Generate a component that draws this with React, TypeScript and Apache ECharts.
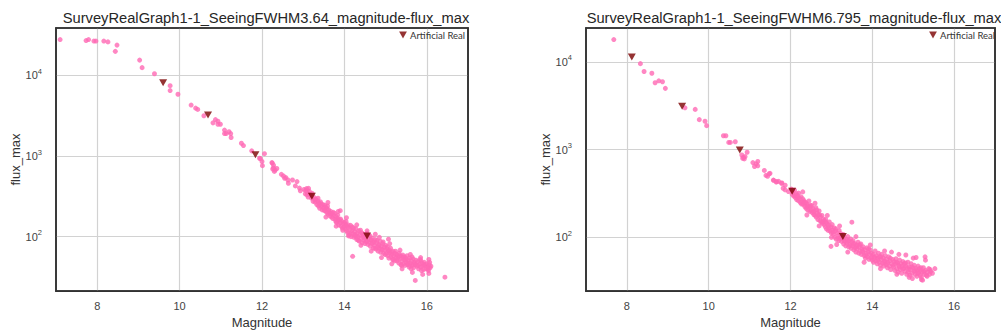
import React, { useEffect, useRef } from "react";
import * as echarts from "echarts";

const chartTitles = [
  "SurveyRealGraph1-1_SeeingFWHM3.64_magnitude-flux_max",
  "SurveyRealGraph1-1_SeeingFWHM6.795_magnitude-flux_max",
];
const legendLabel = "Artificial Real";
const xTickValues = [8, 10, 12, 14, 16];
const yTickExponents = [2, 3, 4];
const xRange = [7, 17];
const yRangeLeft = [21.1, 38800];
const yRangeRight = [24.4, 24400];

const artificialLeft = [
  [9.6, 8130], [10.69, 3230], [11.84, 1035], [13.21, 318], [14.55, 102],
];
const artificialRight = [
  [8.12, 11400], [9.35, 3130], [10.76, 993], [12.04, 335], [13.28, 102],
];

const realLeft = [
  [7.1, 27900], [7.73, 27100], [7.79, 27900], [7.92, 26700], [7.97, 26700], [8.16, 26700], [8.26, 26100],
  [8.48, 23800], [8.44, 19900], [9.03, 15500], [9.09, 12500], [9.39, 10500], [9.77, 7470], [9.77, 6490],
  [9.96, 5850], [10.28, 4290], [10.39, 3930], [10.44, 3790], [10.59, 3160], [10.81, 2580], [10.87, 2830],
  [10.93, 2700], [10.99, 2480], [10.93, 2480], [11.09, 2100], [11.13, 1900], [11.2, 2000], [11.24, 1900],
  [11.09, 1900], [11.25, 1700], [11.5, 1440], [11.55, 1350], [11.75, 1160], [12.06, 1070], [11.94, 940],
  [12.0, 855], [12.01, 760], [11.96, 930], [12.25, 817], [12.28, 710], [12.3, 645], [12.24, 830],
  [12.28, 770], [12.26, 690], [12.32, 670], [12.36, 700], [12.47, 593], [12.52, 565], [12.58, 540],
  [12.63, 505], [12.55, 530], [12.64, 460], [12.74, 505], [12.85, 482], [12.81, 426], [12.91, 400],
  [12.93, 370], [13.09, 330],
  [13.02, 385], [13.05, 340], [13.08, 395], [13.1, 350], [13.12, 310], [13.15, 365], [13.17, 330],
  [13.2, 300], [13.22, 345], [13.24, 275],
  [13.27, 305], [13.29, 268], [13.31, 290], [13.33, 250], [13.35, 278], [13.37, 240], [13.38, 262],
  [13.4, 225], [13.42, 270], [13.44, 238], [13.46, 215], [13.48, 250], [13.5, 228],
  [13.52, 245], [13.53, 210], [13.55, 232], [13.57, 200], [13.58, 222], [13.6, 190], [13.62, 215],
  [13.63, 198], [13.65, 180], [13.67, 205], [13.69, 175], [13.7, 192], [13.72, 168], [13.74, 185],
  [13.76, 195], [13.78, 165], [13.8, 178], [13.81, 150], [13.83, 170], [13.85, 158], [13.86, 140],
  [13.88, 162], [13.9, 210], [13.9, 148], [13.92, 135], [13.94, 155], [13.95, 128], [13.97, 145],
  [13.99, 132], [14.0, 150],
  [14.02, 125], [14.03, 142], [14.05, 118], [14.06, 135], [14.08, 112], [14.1, 130], [14.11, 105],
  [14.13, 122], [14.15, 138], [14.16, 100], [14.18, 118], [14.2, 57], [14.2, 110], [14.22, 128],
  [14.23, 98], [14.25, 115],
  [14.27, 105], [14.28, 125], [14.3, 92], [14.31, 110], [14.33, 100], [14.35, 118], [14.36, 88],
  [14.38, 105], [14.4, 95], [14.42, 112], [14.43, 84], [14.45, 100], [14.47, 90], [14.48, 106], [14.5, 82],
  [14.52, 98], [14.53, 88], [14.55, 110], [14.57, 80], [14.58, 95], [14.6, 85], [14.62, 102], [14.63, 76],
  [14.65, 90], [14.67, 82], [14.68, 96], [14.7, 72], [14.72, 86], [14.73, 78], [14.75, 92], [14.75, 107],
  [14.77, 70], [14.78, 84], [14.8, 74], [14.82, 66], [14.83, 80], [14.85, 72], [14.87, 88], [14.88, 64],
  [14.9, 76], [14.92, 69], [14.93, 82], [14.95, 62], [14.97, 74], [14.98, 68], [15.0, 78],
  [15.02, 62], [15.03, 71], [15.05, 58], [15.07, 93], [15.07, 66], [15.08, 54], [15.1, 63], [15.12, 72],
  [15.13, 56], [15.15, 60], [15.17, 52], [15.18, 66], [15.2, 58], [15.22, 50], [15.23, 62], [15.25, 55],
  [15.27, 60], [15.28, 50], [15.3, 56], [15.32, 47], [15.33, 62], [15.35, 53], [15.37, 45], [15.38, 57],
  [15.4, 50], [15.42, 59], [15.43, 46], [15.45, 52], [15.47, 44], [15.48, 55], [15.5, 48],
  [15.52, 58], [15.53, 45], [15.55, 51], [15.57, 42], [15.58, 54], [15.6, 47], [15.62, 40], [15.63, 50],
  [15.65, 44], [15.67, 53], [15.68, 41], [15.7, 48], [15.72, 28.6], [15.72, 45], [15.74, 51],
  [15.76, 43], [15.78, 49], [15.8, 40], [15.82, 46], [15.84, 52], [15.85, 42], [15.87, 38], [15.89, 47],
  [15.9, 43], [15.92, 39], [15.94, 48], [15.96, 44], [15.98, 40], [16.0, 46], [16.02, 42], [16.04, 38],
  [16.06, 45], [16.08, 41], [16.1, 43], [16.44, 31.4],
  [13.06, 372], [13.13, 398], [13.19, 322], [13.28, 285], [13.36, 300], [13.43, 255], [13.51, 212],
  [13.59, 240], [13.66, 195], [13.73, 200], [13.79, 155], [13.84, 185], [13.91, 165], [13.96, 120],
  [14.04, 155], [14.09, 140], [14.14, 108], [14.19, 132], [14.24, 104], [14.29, 98], [14.34, 90],
  [14.39, 120], [14.44, 108], [14.49, 96], [14.54, 86], [14.59, 104], [14.64, 92], [14.69, 84],
  [14.74, 72], [14.79, 90], [14.84, 78], [14.89, 70], [14.94, 86], [14.99, 60], [15.04, 75], [15.09, 68],
  [15.14, 64], [15.19, 52], [15.24, 66], [15.29, 53], [15.34, 58], [15.39, 44], [15.44, 56], [15.49, 51],
  [15.54, 47], [15.59, 44], [15.64, 56], [15.69, 46], [15.79, 44], [15.86, 50], [15.93, 45], [16.03, 40],
  [16.07, 48],
  [13.6, 265], [13.85, 205], [14.05, 172], [14.3, 140], [14.55, 118], [14.85, 98], [15.1, 82], [15.35, 68],
  [15.6, 60], [15.85, 55], [16.05, 52], [13.55, 175], [13.8, 135], [14.1, 102], [14.4, 78], [14.65, 66],
  [14.9, 55], [15.15, 46], [15.4, 40], [15.65, 36], [15.9, 34], [16.05, 35],
];

const realRight = [
  [7.68, 18000], [8.33, 9570], [8.42, 7780], [8.61, 7440], [8.69, 5800], [8.78, 6100], [8.87, 5950],
  [8.94, 5000], [9.42, 3000], [9.67, 2880], [9.77, 2200], [9.91, 2110], [9.95, 1880], [10.36, 1440],
  [10.42, 1440], [10.49, 1210], [10.53, 1210], [10.65, 1230], [10.94, 935], [10.81, 870], [10.85, 818],
  [10.89, 834], [10.87, 785], [10.83, 798], [11.08, 712], [11.12, 643], [11.2, 733], [11.2, 654],
  [11.16, 690], [11.36, 580], [11.4, 509], [11.48, 532], [11.44, 497], [11.59, 447], [11.65, 428],
  [11.71, 435], [11.79, 417], [11.87, 393], [11.5, 537], [11.58, 450], [11.66, 432], [11.78, 414],
  [11.82, 363], [11.87, 348], [11.95, 333],
  [12.02, 355], [12.04, 310], [12.06, 330], [12.08, 295], [12.1, 345], [12.12, 285], [12.14, 315],
  [12.15, 270], [12.17, 300], [12.19, 262], [12.2, 320], [12.22, 280], [12.24, 250],
  [12.26, 290], [12.28, 255], [12.3, 275], [12.31, 238], [12.33, 262], [12.35, 225], [12.37, 250],
  [12.38, 215], [12.4, 240], [12.42, 205], [12.43, 228], [12.45, 260], [12.47, 198], [12.48, 222], [12.5, 205],
  [12.52, 230], [12.53, 192], [12.55, 212], [12.57, 182], [12.58, 200], [12.6, 178], [12.62, 218],
  [12.63, 170], [12.65, 190], [12.67, 160], [12.68, 180], [12.7, 200], [12.72, 155], [12.73, 172], [12.75, 150],
  [12.77, 178], [12.78, 145], [12.8, 162], [12.82, 140], [12.83, 155], [12.85, 132], [12.87, 148],
  [12.88, 125], [12.9, 142], [12.92, 120], [12.93, 136], [12.95, 150], [12.97, 118], [12.99, 79],
  [12.99, 132], [13.0, 112],
  [13.02, 140], [13.03, 122], [13.05, 108], [13.07, 128], [13.08, 100], [13.1, 118], [13.12, 95],
  [13.13, 83], [13.14, 112], [13.16, 104], [13.18, 92], [13.19, 120], [13.21, 98], [13.23, 110], [13.25, 90],
  [13.27, 96], [13.29, 108], [13.3, 84], [13.32, 100], [13.33, 90], [13.35, 80], [13.37, 95], [13.38, 86],
  [13.4, 102], [13.42, 78], [13.43, 92], [13.45, 84], [13.47, 96], [13.48, 75], [13.5, 149], [13.5, 88],
  [13.52, 80], [13.53, 92], [13.55, 72], [13.57, 85], [13.58, 76], [13.6, 68], [13.62, 82], [13.63, 74],
  [13.65, 88], [13.67, 66], [13.68, 78], [13.7, 70], [13.72, 84], [13.73, 64], [13.75, 74],
  [13.77, 68], [13.78, 78], [13.8, 62], [13.82, 72], [13.83, 58], [13.85, 66], [13.87, 76], [13.88, 60],
  [13.9, 68], [13.92, 56], [13.93, 64], [13.95, 72], [13.97, 58], [13.98, 66], [14.0, 55],
  [14.02, 64], [14.03, 52], [14.05, 60], [14.07, 70], [14.08, 54], [14.1, 62], [14.12, 50], [14.13, 58],
  [14.15, 66], [14.17, 52], [14.18, 60], [14.2, 48], [14.22, 56], [14.23, 64], [14.25, 51],
  [14.27, 58], [14.28, 47], [14.3, 54], [14.32, 62], [14.33, 49], [14.35, 56], [14.37, 45], [14.38, 52],
  [14.4, 60], [14.42, 47], [14.43, 54], [14.45, 43], [14.47, 68], [14.47, 50], [14.5, 56],
  [14.52, 46], [14.53, 53], [14.55, 42], [14.57, 50], [14.58, 57], [14.6, 44], [14.62, 51], [14.63, 40],
  [14.65, 48], [14.67, 55], [14.68, 43], [14.7, 50], [14.72, 39], [14.73, 47], [14.75, 53],
  [14.77, 44], [14.78, 50], [14.8, 41], [14.82, 63], [14.82, 47], [14.84, 38], [14.85, 45], [14.87, 52],
  [14.88, 40], [14.9, 46], [14.92, 37], [14.93, 43], [14.95, 50], [14.97, 39], [14.98, 34], [15.0, 45],
  [15.02, 41], [15.03, 48], [15.05, 38], [15.07, 59], [15.07, 44], [15.09, 36], [15.1, 42], [15.12, 47],
  [15.13, 39], [15.15, 44], [15.17, 37], [15.18, 42], [15.2, 35], [15.22, 40], [15.23, 32.5], [15.25, 45],
  [15.27, 38], [15.29, 60], [15.3, 42], [15.32, 37], [15.35, 40], [15.38, 44], [15.4, 38], [15.43, 41],
  [15.47, 39], [15.53, 44],
  [12.05, 345], [12.11, 300], [12.18, 285], [12.27, 240], [12.34, 250], [12.41, 222], [12.49, 232],
  [12.56, 195], [12.64, 205], [12.71, 180], [12.79, 150], [12.86, 160], [12.94, 128], [13.04, 115],
  [13.11, 125], [13.17, 98], [13.24, 100], [13.31, 92], [13.39, 90], [13.46, 80], [13.54, 84],
  [13.61, 78], [13.69, 82], [13.76, 70], [13.84, 62], [13.91, 74], [13.99, 60], [14.06, 58], [14.14, 55],
  [14.21, 60], [14.29, 52], [14.36, 50], [14.44, 58], [14.51, 48], [14.59, 52], [14.66, 46], [14.74, 44],
  [14.81, 51], [14.89, 43], [14.96, 46], [15.04, 42], [15.11, 39], [15.19, 45], [15.26, 41], [15.34, 36],
  [15.41, 43],
  [12.3, 330], [12.6, 245], [12.9, 178], [13.2, 135], [13.6, 102], [13.95, 82], [14.3, 70], [14.65, 64],
  [15.0, 58], [15.3, 55], [12.4, 180], [12.7, 135], [13.0, 100], [13.4, 68], [13.8, 52], [14.2, 44],
  [14.6, 38], [14.9, 35], [15.2, 33],
];

const FONT = "'Liberation Sans', Arial, sans-serif";
const PINK = "#ff69b4";
const MAROON = "#7b0000";
const TRI = "path://M0,0L10,0L5,9Z";
const GRID_COLOR = "#d2d2d2";
const FRAME = { show: true, lineStyle: { color: "#333333", width: 1.6 } };

function makeXAxis(gridIndex: number) {
  return {
    type: "value",
    gridIndex,
    min: xRange[0],
    max: xRange[1],
    splitNumber: 5,
    name: "Magnitude",
    nameLocation: "middle",
    nameGap: 23,
    nameTextStyle: { fontFamily: FONT, fontSize: 13, color: "#333" },
    axisLine: FRAME,
    axisTick: { show: false },
    axisLabel: {
      margin: 9,
      fontFamily: FONT,
      fontSize: 11,
      color: "#444",
      formatter: (v: number) => (xTickValues.includes(v) ? String(v) : ""),
    },
    splitLine: {
      show: true,
      showMinLine: false,
      showMaxLine: false,
      lineStyle: { color: GRID_COLOR, width: 1.2 },
    },
  };
}

function makeTopAxis(gridIndex: number) {
  return {
    type: "value",
    gridIndex,
    position: "top",
    min: xRange[0],
    max: xRange[1],
    axisLine: FRAME,
    axisTick: { show: false },
    axisLabel: { show: false },
    splitLine: { show: false },
    z: 3,
  };
}

function makeYAxis(gridIndex: number, range: number[]) {
  return {
    type: "log",
    logBase: 10,
    gridIndex,
    min: range[0],
    max: range[1],
    name: "flux_max",
    nameLocation: "middle",
    nameGap: 34,
    nameTextStyle: { fontFamily: FONT, fontSize: 13, color: "#333" },
    axisLine: FRAME,
    axisTick: { show: false },
    minorTick: { show: false },
    axisLabel: {
      margin: 14,
      formatter: (v: number) => {
        const l = Math.log10(v);
        const e = Math.round(l);
        if (Math.abs(l - e) > 1e-6 || !yTickExponents.includes(e)) return "";
        return `{b|10}{s|${e}}`;
      },
      rich: {
        b: { fontFamily: FONT, fontSize: 11, color: "#444", lineHeight: 16 },
        s: { fontFamily: FONT, fontSize: 7.5, color: "#444", lineHeight: 8, verticalAlign: "top" },
      },
    },
    splitLine: {
      show: true,
      showMinLine: false,
      showMaxLine: false,
      lineStyle: { color: GRID_COLOR, width: 1.2 },
    },
  };
}

function makeRightAxis(gridIndex: number, range: number[]) {
  return {
    type: "log",
    logBase: 10,
    gridIndex,
    position: "right",
    min: range[0],
    max: range[1],
    axisLine: FRAME,
    axisTick: { show: false },
    minorTick: { show: false },
    axisLabel: { show: false },
    splitLine: { show: false },
    z: 3,
  };
}

function makeLegend(right: number) {
  return {
    data: [legendLabel],
    right,
    top: 30,
    padding: 0,
    itemWidth: 8,
    itemHeight: 7,
    icon: TRI,
    textStyle: { fontFamily: "Lato, 'Open Sans', sans-serif", fontSize: 9.5, color: "#333", padding: [0, 0, 0, -2] },
  };
}

export default function App() {
  const ref = useRef<HTMLDivElement>(null);
  useEffect(() => {
    if (!ref.current) return;
    const chart = echarts.init(ref.current, undefined, { renderer: "svg" });
    const gridBase = {
      top: 28,
      height: 266,
      show: true,
      borderColor: "#333333",
      borderWidth: 1.6,
    };
    const titleStyle = { fontFamily: FONT, fontSize: 14.7, fontWeight: "normal", color: "#262626" };
    chart.setOption({
      animation: false,
      title: [
        { text: chartTitles[0], left: 261, top: 5, textAlign: "center", textStyle: titleStyle },
        { text: chartTitles[1], left: 789, top: 5, textAlign: "center", textStyle: titleStyle },
      ],
      legend: [makeLegend(536), makeLegend(6)],
      grid: [
        { ...gridBase, left: 56, width: 412 },
        { ...gridBase, left: 586, width: 409 },
      ],
      xAxis: [makeXAxis(0), makeXAxis(1), makeTopAxis(0), makeTopAxis(1)],
      yAxis: [
        makeYAxis(0, yRangeLeft),
        makeYAxis(1, yRangeRight),
        makeRightAxis(0, yRangeLeft),
        makeRightAxis(1, yRangeRight),
      ],
      series: [
        {
          name: "Real",
          type: "scatter",
          xAxisIndex: 0,
          yAxisIndex: 0,
          data: realLeft,
          symbol: "circle",
          symbolSize: 5,
          itemStyle: { color: PINK },
        },
        {
          name: legendLabel,
          type: "scatter",
          xAxisIndex: 0,
          yAxisIndex: 0,
          data: artificialLeft,
          symbol: TRI,
          symbolSize: [8, 7],
          itemStyle: { color: MAROON },
        },
        {
          name: "Real",
          type: "scatter",
          xAxisIndex: 1,
          yAxisIndex: 1,
          data: realRight,
          symbol: "circle",
          symbolSize: 5,
          itemStyle: { color: PINK },
        },
        {
          name: legendLabel,
          type: "scatter",
          xAxisIndex: 1,
          yAxisIndex: 1,
          data: artificialRight,
          symbol: TRI,
          symbolSize: [8, 7],
          itemStyle: { color: MAROON },
        },
      ],
    });
    return () => chart.dispose();
  }, []);
  return (
    <div
      ref={ref}
      style={{ position: "fixed", left: 0, top: 0, width: 1001, height: 334, background: "#fff" }}
    />
  );
}
